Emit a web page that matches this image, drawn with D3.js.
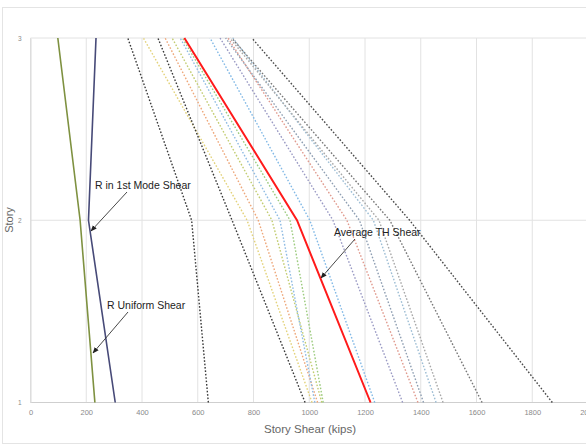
<!DOCTYPE html>
<html><head><meta charset="utf-8">
<script src="https://cdn.jsdelivr.net/npm/d3@7"></script>
<style>body{margin:0;background:#fff}svg{display:block}</style>
</head><body>
<script>
const stories = [1, 2, 3];
const xTicks = [0, 200, 400, 600, 800, 1000, 1200, 1400, 1600, 1800, 2000];
const rUniform = [231, 178, 98];
const r1stMode = [304, 208, 235];
const avgTH = [1220, 956, 552];
const recA = [638, 578, 349];
const recB = [985, 723, 457];
const recC = [1872, 1360, 794];
const recD = [1620, 1289, 722];
const rec1 = [1010, 777, 405];
const rec2 = [1030, 817, 483];
const rec3 = [1045, 866, 508];
const rec4 = [1020, 895, 537];
const rec5 = [1050, 931, 545];
const rec6 = [1235, 1002, 644];
const rec7 = [1335, 1085, 680];
const rec8 = [1390, 1135, 708];
const rec9 = [1410, 1180, 700];
const rec10 = [1455, 1230, 726];
const rec11 = [1480, 1250, 715];

const W = 586, H = 446;
const svg = d3.select("body").append("svg").attr("width", W).attr("height", H);
const x = d3.scaleLinear().domain([0, 2000]).range([30.5, 588]);
const y = d3.scaleLinear().domain([1, 3]).range([402.5, 38]);

svg.append("rect").attr("x", 2.5).attr("y", 7.5).attr("width", 600).attr("height", 436)
  .attr("fill", "none").attr("stroke", "#e4e4e4");

// gridlines
svg.append("g").selectAll("line").data(xTicks).join("line")
  .attr("x1", d => x(d)).attr("x2", d => x(d)).attr("y1", y(3)).attr("y2", y(1))
  .attr("stroke", "#e2e2e2").attr("stroke-width", 1);
svg.append("g").selectAll("line").data(stories).join("line")
  .attr("x1", x(0)).attr("x2", 588).attr("y1", d => y(d)).attr("y2", d => y(d))
  .attr("stroke", d => d === 1 ? "#cfcfcf" : "#e2e2e2").attr("stroke-width", 1);

// axes
const xAxis = svg.append("g").attr("transform", `translate(0,${y(1)})`)
  .call(d3.axisBottom(x).tickValues(xTicks).tickFormat(d3.format("d")).tickSize(0).tickPadding(7));
xAxis.select(".domain").remove();
xAxis.selectAll("text").attr("font-family", "Liberation Sans, Arial").attr("font-size", 7.5).attr("fill", "#8a8a8a");
const yAxis = svg.append("g").attr("transform", `translate(${x(0)},0)`)
  .call(d3.axisLeft(y).tickValues(stories).tickFormat(d3.format("d")).tickSize(0).tickPadding(9));
yAxis.select(".domain").attr("stroke", "#d9d9d9");
yAxis.selectAll("text").attr("font-family", "Liberation Sans, Arial").attr("font-size", 6.5).attr("fill", "#8a8a8a");

svg.append("text").attr("x", 310).attr("y", 433).attr("text-anchor", "middle")
  .attr("font-family", "Liberation Sans, Arial").attr("font-size", 11.5).attr("fill", "#666")
  .text("Story Shear (kips)");
svg.append("text").attr("transform", "translate(13,220) rotate(-90)").attr("text-anchor", "middle")
  .attr("font-family", "Liberation Sans, Arial").attr("font-size", 11).attr("fill", "#666")
  .text("Story");

const line = d3.line().x(d => x(d[0])).y(d => y(d[1]));
const pts = v => v.map((d, i) => [d, stories[i]]);

const dotted = [
  [rec1, "#e3d27a"], [rec2, "#eea77a"], [rec3, "#c2cc70"], [rec4, "#8fbbe3"], [rec5, "#9ccb7e"],
  [rec6, "#82b9e6"], [rec7, "#9a9ac4"], [rec8, "#e09a8e"], [rec9, "#8e9eb2"], [rec10, "#9dbdd4"],
  [rec11, "#a8a8a8"], [recD, "#777"], [recA, "#3a3a3a"], [recB, "#3a3a3a"], [recC, "#4a4a4a"]
];
svg.append("g").selectAll("path").data(dotted).join("path")
  .attr("d", d => line(pts(d[0]))).attr("fill", "none").attr("stroke", d => d[1])
  .attr("stroke-width", 1.4).attr("stroke-dasharray", "1.6,1.8");

svg.append("path").attr("d", line(pts(rUniform))).attr("fill", "none").attr("stroke", "#7e9140").attr("stroke-width", 1.6);
svg.append("path").attr("d", line(pts(r1stMode))).attr("fill", "none").attr("stroke", "#474a78").attr("stroke-width", 1.6);
svg.append("path").attr("d", line(pts(avgTH))).attr("fill", "none").attr("stroke", "#ff1a1a").attr("stroke-width", 2);

// annotations
const defs = svg.append("defs");
defs.append("marker").attr("id", "ah").attr("viewBox", "0 0 10 10").attr("refX", 9).attr("refY", 5)
  .attr("markerWidth", 7).attr("markerHeight", 7).attr("orient", "auto")
  .append("path").attr("d", "M0,1 L10,5 L0,9 Z").attr("fill", "#222");
const notes = [
  {t: "R in 1st Mode Shear", tx: 95, ty: 189, x1: 127, y1: 192, x2: 91, y2: 231},
  {t: "R Uniform Shear", tx: 107, ty: 309, x1: 128, y1: 312, x2: 93, y2: 353},
  {t: "Average TH Shear", tx: 334, ty: 236, x1: 355, y1: 239, x2: 321, y2: 278}
];
notes.forEach(n => {
  svg.append("line").attr("x1", n.x1).attr("y1", n.y1).attr("x2", n.x2).attr("y2", n.y2)
    .attr("stroke", "#333").attr("stroke-width", 0.9).attr("marker-end", "url(#ah)");
  svg.append("text").attr("x", n.tx).attr("y", n.ty).attr("font-family", "Liberation Sans, Arial")
    .attr("font-size", 10.5).attr("fill", "#222").text(n.t);
});
</script>
</body></html>
